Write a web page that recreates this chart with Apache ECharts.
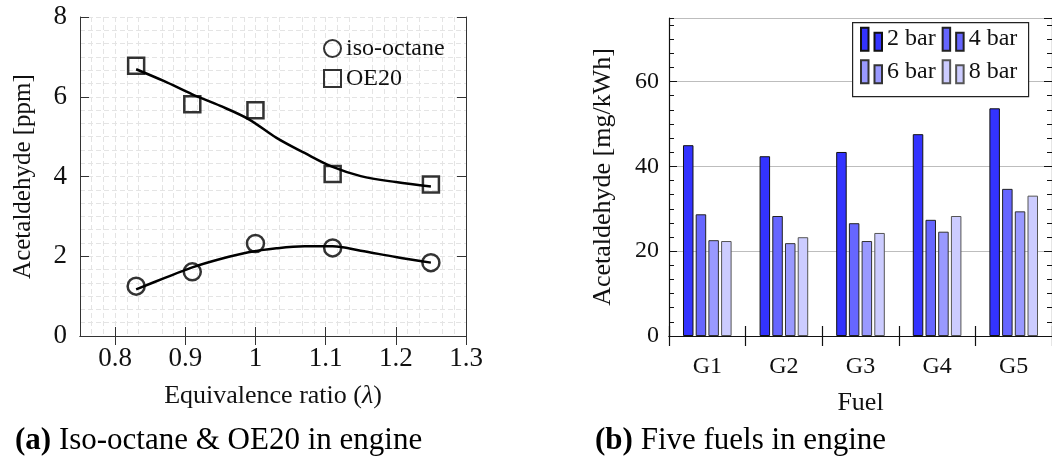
<!DOCTYPE html>
<html>
<head>
<meta charset="utf-8">
<script src="https://cdn.jsdelivr.net/npm/echarts@6/dist/echarts.min.js"></script>
<style>
  html, body { margin: 0; padding: 0; background: #fff; }
  #chart { width: 1052px; height: 462px; }
</style>
</head>
<body>
<div id="chart"></div>
<script>
// Panel (a): acetaldehyde against equivalence ratio
const lambdaValues = [0.83, 0.91, 1.0, 1.11, 1.25];
const isoOctane = [1.25, 1.61, 2.32, 2.21, 1.84];
const oe20 = [6.78, 5.81, 5.66, 4.06, 3.80];
// trend curves drawn through each set of measurements
const trendLambda = [0.83, 0.87, 0.91, 0.95, 0.99, 1.03, 1.07, 1.11, 1.15, 1.20, 1.25];
const isoTrend = [1.17, 1.45, 1.72, 1.93, 2.10, 2.20, 2.25, 2.25, 2.14, 1.98, 1.84];
const oe20Trend = [6.69, 6.39, 6.06, 5.77, 5.44, 4.97, 4.59, 4.24, 4.01, 3.86, 3.75];
const lambdaTicks = [0.8, 0.9, 1.0, 1.1, 1.2, 1.3];

// Panel (b): acetaldehyde per fuel at four loads
const fuels = ['G1', 'G2', 'G3', 'G4', 'G5'];
const bar2 = [45.0, 42.4, 43.4, 47.6, 53.7];
const bar4 = [28.7, 28.3, 26.6, 27.4, 34.7];
const bar6 = [22.6, 21.9, 22.4, 24.6, 29.4];
const bar8 = [22.4, 23.3, 24.3, 28.3, 33.1];
const loadNames = ['2 bar', '4 bar', '6 bar', '8 bar'];
const loadColors = ['#3333ff', '#6666ff', '#9999ff', '#ccccff'];
const loadBorders = ['#111', '#222', '#333', '#555'];

const SERIF = '"Liberation Serif", "Times New Roman", serif';
const zip = (xs, ys) => xs.map((x, i) => [x, ys[i]]);

const dashGrid = { show: true, lineStyle: { color: '#e4e4e4', width: 1, type: [5, 3] } };
const frameLine = { show: true, lineStyle: { color: '#333', width: 1 } };
const darkLine = { show: true, lineStyle: { color: '#111', width: 1.2 } };
const noLabel = { show: false };

const chart = echarts.init(document.getElementById('chart'), null, { renderer: 'canvas' });

const barIcon = 'path://M0,0H7.5V23H0Z M13.5,5H21V23H13.5Z';

const option = {
  animation: false,
  backgroundColor: '#fff',
  grid: [
    { left: 80, top: 17, width: 386, height: 319 },
    { left: 669, top: 18, width: 386, height: 318 }
  ],
  xAxis: [
    {
      type: 'value', gridIndex: 0, position: 'bottom',
      min: 0.75, max: 1.3, interval: 0.05,
      axisLine: frameLine,
      axisTick: { show: true, inside: true, length: 9, customValues: lambdaTicks, lineStyle: { color: '#333' } },
      axisLabel: {
        show: true, customValues: lambdaTicks, margin: 9,
        fontFamily: SERIF, fontSize: 27, color: '#111',
        formatter: v => String(Math.round(v * 10) / 10)
      },
      splitLine: dashGrid,
      minorTick: { show: false, splitNumber: 3 },
      minorSplitLine: dashGrid,
      name: 'Equivalence ratio ({i|λ})',
      nameLocation: 'middle', nameGap: 47,
      nameTextStyle: {
        fontFamily: SERIF, fontSize: 26, color: '#111',
        rich: { i: { fontFamily: SERIF, fontSize: 26, fontStyle: 'italic', color: '#111' } }
      }
    },
    {
      type: 'value', gridIndex: 0, position: 'top',
      min: 0.75, max: 1.3, interval: 0.05,
      axisLine: frameLine,
      axisTick: { show: true, inside: true, length: 9, customValues: lambdaTicks, lineStyle: { color: '#333' } },
      axisLabel: noLabel, splitLine: { show: false }
    },
    {
      type: 'category', gridIndex: 1, position: 'bottom', data: fuels,
      axisLine: darkLine,
      axisTick: { show: true, inside: false, length: 10, alignWithLabel: false, lineStyle: { color: '#111', width: 1.2 } },
      axisLabel: { margin: 19, fontFamily: SERIF, fontSize: 24, color: '#111' },
      name: 'Fuel', nameLocation: 'middle', nameGap: 54,
      nameTextStyle: { fontFamily: SERIF, fontSize: 26, color: '#111' }
    },
    {
      type: 'category', gridIndex: 1, position: 'top', data: fuels,
      axisLine: darkLine,
      axisTick: { show: true, inside: false, length: 10, alignWithLabel: false, lineStyle: { color: '#111', width: 1.2 } },
      axisLabel: noLabel
    }
  ],
  yAxis: [
    {
      type: 'value', gridIndex: 0, position: 'left',
      min: 0, max: 8, interval: 2,
      axisLine: frameLine,
      axisTick: { show: true, inside: true, length: 9, lineStyle: { color: '#333' } },
      axisLabel: { margin: 13, fontFamily: SERIF, fontSize: 27, color: '#111' },
      splitLine: dashGrid,
      minorTick: { show: false, splitNumber: 6 },
      minorSplitLine: dashGrid,
      name: 'Acetaldehyde [ppm]', nameLocation: 'middle', nameGap: 44,
      nameTextStyle: { fontFamily: SERIF, fontSize: 25, color: '#111' }
    },
    {
      type: 'value', gridIndex: 0, position: 'right',
      min: 0, max: 8, interval: 2,
      axisLine: frameLine,
      axisTick: { show: true, inside: true, length: 9, lineStyle: { color: '#333' } },
      axisLabel: noLabel, splitLine: { show: false }
    },
    {
      type: 'value', gridIndex: 1, position: 'left',
      min: 0, max: 75, interval: 20,
      axisLine: darkLine,
      axisTick: { show: true, inside: true, length: 8, lineStyle: { color: '#111' } },
      axisLabel: { margin: 10, showMaxLabel: false, fontFamily: SERIF, fontSize: 24, color: '#111' },
      splitLine: { show: true, lineStyle: { color: '#bdbdbd', width: 1 } },
      name: 'Acetaldehyde [mg/kWh]', nameLocation: 'middle', nameGap: 53,
      nameTextStyle: { fontFamily: SERIF, fontSize: 26, color: '#111' }
    },
    {
      type: 'value', gridIndex: 1, position: 'left',
      min: 0, max: 75, interval: 10 / 3,
      axisLine: { show: false },
      axisTick: { show: true, inside: true, length: 5, lineStyle: { color: '#111' } },
      axisLabel: noLabel, splitLine: { show: false }
    },
    {
      type: 'value', gridIndex: 1, position: 'right',
      min: 0, max: 75, interval: 20,
      axisLine: darkLine,
      axisTick: { show: true, inside: true, length: 8, lineStyle: { color: '#111' } },
      axisLabel: noLabel, splitLine: { show: false }
    },
    {
      type: 'value', gridIndex: 1, position: 'right',
      min: 0, max: 75, interval: 10 / 3,
      axisLine: { show: false },
      axisTick: { show: true, inside: true, length: 5, lineStyle: { color: '#111' } },
      axisLabel: noLabel, splitLine: { show: false }
    }
  ],
  legend: [
    {
      data: ['iso-octane', 'OE20'],
      orient: 'vertical', left: 323, top: 36.5, padding: 0,
      itemWidth: 17, itemHeight: 17, itemGap: 6,
      textStyle: { fontFamily: SERIF, fontSize: 24, color: '#111' },
      selectedMode: false
    },
    {
      data: loadNames.slice(0, 2),
      left: 860, top: 26.7, padding: 0, itemWidth: 21, itemHeight: 23, itemGap: 6,
      icon: barIcon, selectedMode: false, z: 5,
      textStyle: { fontFamily: SERIF, fontSize: 24, color: '#111' }
    },
    {
      data: loadNames.slice(2, 4),
      left: 860, top: 59.2, padding: 0, itemWidth: 21, itemHeight: 23, itemGap: 6,
      icon: barIcon, selectedMode: false, z: 5,
      textStyle: { fontFamily: SERIF, fontSize: 24, color: '#111' }
    }
  ],
  graphic: [
    {
      type: 'rect', left: 852, top: 22, z: 3,
      shape: { width: 176, height: 74 },
      style: { fill: '#fff', stroke: '#222', lineWidth: 1.2 }
    },
    {
      type: 'text', left: 15, top: 425,
      style: {
        text: '{b|(a)} Iso-octane & OE20 in engine',
        fontFamily: SERIF, fontSize: 31, fill: '#000',
        rich: { b: { fontFamily: SERIF, fontSize: 31, fontWeight: 'bold', fill: '#000' } }
      }
    },
    {
      type: 'text', left: 595, top: 425,
      style: {
        text: '{b|(b)} Five fuels in engine',
        fontFamily: SERIF, fontSize: 31, fill: '#000',
        rich: { b: { fontFamily: SERIF, fontSize: 31, fontWeight: 'bold', fill: '#000' } }
      }
    }
  ],
  series: [
    {
      name: 'isoTrend', type: 'line', xAxisIndex: 0, yAxisIndex: 0,
      data: zip(trendLambda, isoTrend), smooth: 0.35, showSymbol: false, silent: true,
      lineStyle: { color: '#000', width: 2.5 }, z: 2
    },
    {
      name: 'oe20Trend', type: 'line', xAxisIndex: 0, yAxisIndex: 0,
      data: zip(trendLambda, oe20Trend), smooth: 0.35, showSymbol: false, silent: true,
      lineStyle: { color: '#000', width: 2.5 }, z: 2
    },
    {
      name: 'iso-octane', type: 'scatter', xAxisIndex: 0, yAxisIndex: 0,
      data: zip(lambdaValues, isoOctane), symbol: 'circle', symbolSize: 17,
      itemStyle: { color: 'rgba(255,255,255,0)', borderColor: '#000', borderWidth: 2.5 }, z: 3
    },
    {
      name: 'OE20', type: 'scatter', xAxisIndex: 0, yAxisIndex: 0,
      data: zip(lambdaValues, oe20), symbol: 'rect', symbolSize: 16,
      itemStyle: { color: 'rgba(255,255,255,0)', borderColor: '#000', borderWidth: 2.5 }, z: 3
    },
    ...[bar2, bar4, bar6, bar8].map((vals, i) => ({
      name: loadNames[i], type: 'bar', xAxisIndex: 2, yAxisIndex: 2,
      data: vals, barWidth: 10.5, barGap: '21%',
      itemStyle: { color: loadColors[i], borderColor: loadBorders[i], borderWidth: 1 }
    }))
  ]
};

chart.setOption(option);
</script>
</body>
</html>
